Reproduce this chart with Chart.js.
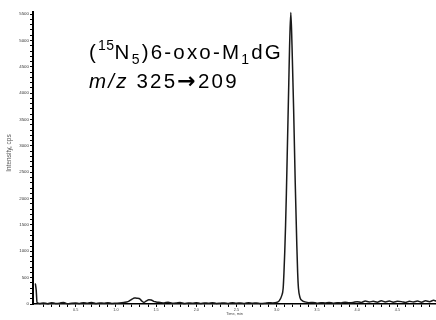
<!DOCTYPE html>
<html>
<head>
<meta charset="utf-8">
<script src="https://cdn.jsdelivr.net/npm/chart.js@4/dist/chart.umd.min.js"></script>
<style>
  html, body { margin: 0; padding: 0; background: #fff; }
  #wrap { position: relative; width: 436px; height: 320px; }
  canvas { position: absolute; left: 0; top: 0; }
  .ann { position: absolute; left: 89px; font-family: "Liberation Sans", Arial, sans-serif; font-size: 20.5px; line-height: 20.5px; letter-spacing: 2.2px; color: #000; white-space: nowrap; }
  .sup { position: relative; top: -9px; font-size: 14px; letter-spacing: 0.5px; }
  .sub { position: relative; top: 5px; font-size: 14px; }
  .arr { font-family: "DejaVu Sans", sans-serif; font-weight: bold; font-size: 22px; }
</style>
</head>
<body>
<div id="wrap">
  <canvas id="c" width="436" height="320"></canvas>
  <div class="ann" style="top:42px">(<span class="sup">15</span>N<span class="sub">5</span>)6-oxo-M<span class="sub">1</span>dG</div>
  <div class="ann" style="top:71px"><i>m/z</i> 325<span class="arr">&#8594;</span>209</div>
</div>
<script>
// Retention time (min)
const times = [
  0.00, 0.01, 0.02, 0.05, 0.10, 0.15, 0.20, 0.25, 0.30, 0.35, 0.40, 0.45, 0.50, 0.55, 0.60, 0.65, 0.70, 0.75,
  0.80, 0.85, 0.90, 0.95, 1.00, 1.05, 1.10, 1.15, 1.20, 1.23, 1.26, 1.29, 1.32, 1.35, 1.38, 1.41, 1.44, 1.47,
  1.50, 1.55, 1.60, 1.65, 1.70, 1.75, 1.80, 1.85, 1.90, 1.95, 2.00, 2.05, 2.10, 2.15, 2.20, 2.25, 2.30, 2.35,
  2.40, 2.45, 2.50, 2.55, 2.60, 2.65, 2.70, 2.75, 2.80, 2.85, 2.90, 2.95,
  3.00, 3.03, 3.06, 3.08, 3.09, 3.10, 3.11, 3.12, 3.13, 3.14, 3.15, 3.16, 3.175, 3.19, 3.20, 3.21, 3.22, 3.23,
  3.24, 3.25, 3.26, 3.27, 3.29, 3.32, 3.35, 3.40,
  3.45, 3.50, 3.55, 3.60, 3.65, 3.70, 3.75, 3.80, 3.85, 3.90, 3.95, 4.00, 4.05, 4.10, 4.15, 4.20, 4.25, 4.30,
  4.35, 4.40, 4.45, 4.50, 4.55, 4.60, 4.65, 4.70, 4.75, 4.80, 4.85, 4.90, 4.95, 4.98
];
// Intensity (cps)
const intensity = [
  380, 260, 30, 10, 20, 5, 25, 10, 15, 30, 5, 15, 20, 10, 25, 15, 30, 10,
  20, 15, 25, 10, 15, 20, 30, 45, 90, 115, 110, 105, 60, 30, 60, 80, 75, 50,
  40, 30, 20, 35, 15, 20, 30, 10, 20, 15, 25, 10, 20, 15, 25, 10, 15, 20,
  10, 25, 15, 20, 10, 25, 15, 20, 10, 15, 25, 20,
  30, 60, 150, 300, 600, 1000, 1500, 2100, 2800, 3500, 4200, 4900, 5530, 4900, 4300, 3700, 3000, 2300,
  1700, 1100, 600, 300, 120, 60, 40, 25,
  30, 15, 25, 20, 30, 15, 25, 20, 35, 25, 30, 45, 30, 55, 40, 50, 35, 60,
  40, 55, 35, 50, 45, 30, 50, 40, 55, 35, 60, 45, 70, 55
];
const yMajorTicks = [0, 500, 1000, 1500, 2000, 2500, 3000, 3500, 4000, 4500, 5000, 5500];
const yTickLabels = ['0', '500', '1000', '1500', '2000', '2500', '3000', '3500', '4000', '4500', '5000', '5500'];
const xMajorTicks = [0.5, 1.0, 1.5, 2.0, 2.5, 3.0, 3.5, 4.0, 4.5];
const xTickLabels = ['0.5', '1.0', '1.5', '2.0', '2.5', '3.0', '3.5', '4.0', '4.5'];
const xTitle = 'Time, min';
const yTitle = 'Intensity, cps';

const near = (a, b) => Math.abs(a - b) < 1e-6;

const yTitlePlugin = {
  id: 'yTitlePlugin',
  afterDraw(chart) {
    const ctx = chart.ctx;
    ctx.save();
    ctx.translate(9, 153);
    ctx.rotate(-Math.PI / 2);
    ctx.font = '6.5px "Liberation Sans", Arial, sans-serif';
    ctx.fillStyle = '#555';
    ctx.textAlign = 'center';
    ctx.textBaseline = 'middle';
    ctx.fillText(yTitle, 0, 0);
    ctx.restore();
  }
};

new Chart(document.getElementById('c'), {
  type: 'line',
  data: {
    datasets: [{
      data: times.map((t, i) => ({ x: t, y: intensity[i] })),
      borderColor: '#1a1a1a',
      borderWidth: 1.5,
      borderJoinStyle: 'round',
      borderCapStyle: 'round',
      cubicInterpolationMode: 'monotone',
      pointRadius: 0,
      fill: false,
      clip: false
    }]
  },
  options: {
    responsive: false,
    animation: false,
    devicePixelRatio: 1,
    layout: { padding: { top: 12, right: 0, left: 0, bottom: 0 } },
    plugins: { legend: { display: false }, tooltip: { enabled: false } },
    scales: {
      x: {
        type: 'linear',
        min: -0.03,
        max: 4.98,
        afterBuildTicks(scale) {
          const t = [];
          for (let k = 1; k <= 49; k++) t.push({ value: k / 10 });
          scale.ticks = t;
        },
        afterFit(scale) { scale.height = 16; },
        ticks: {
          autoSkip: false,
          maxRotation: 0,
          padding: 1,
          font: { size: 3.8, family: '"Liberation Sans", Arial, sans-serif' },
          color: '#444',
          callback(v) {
            const i = xMajorTicks.findIndex(m => near(m, v));
            return i >= 0 ? xTickLabels[i] : '';
          }
        },
        grid: {
          drawOnChartArea: false,
          drawTicks: true,
          tickLength: 3,
          color: '#000',
          lineWidth: 1
        },
        border: { display: true, color: '#000', width: 1.5 },
        title: {
          display: true,
          text: xTitle,
          color: '#444',
          font: { size: 3.8, family: '"Liberation Sans", Arial, sans-serif' },
          padding: { top: 0, bottom: 4 }
        }
      },
      y: {
        type: 'linear',
        min: 0,
        max: 5540,
        afterBuildTicks(scale) {
          const t = [];
          for (let k = 0; k <= 55; k++) t.push({ value: k * 100 });
          scale.ticks = t;
        },
        afterFit(scale) { scale.width = 33; },
        ticks: {
          autoSkip: false,
          padding: 1,
          font: { size: 4.4, family: '"Liberation Sans", Arial, sans-serif' },
          color: '#333',
          callback(v) {
            const i = yMajorTicks.findIndex(m => near(m, v));
            return i >= 0 ? yTickLabels[i] : '';
          }
        },
        grid: {
          drawOnChartArea: false,
          drawTicks: true,
          tickLength: 3,
          color: '#000',
          lineWidth: 1
        },
        border: { display: true, color: '#000', width: 2 }
      }
    }
  },
  plugins: [yTitlePlugin]
});
</script>
</body>
</html>
